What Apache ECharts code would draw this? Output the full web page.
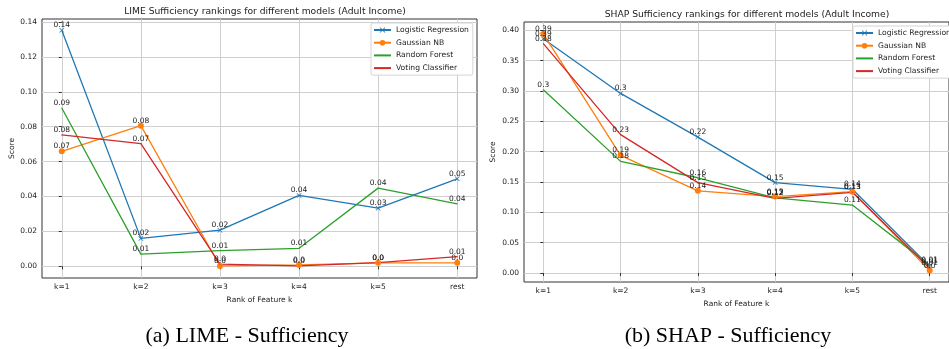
<!DOCTYPE html>
<html><head><meta charset="utf-8">
<script src="https://cdn.jsdelivr.net/npm/echarts@6/dist/echarts.min.js"></script>
<style>html,body{margin:0;padding:0;background:#fff}#c{width:949px;height:349px}</style>
</head><body><div id="c"></div>
<script>
const categories = ['k=1', 'k=2', 'k=3', 'k=4', 'k=5', 'rest'];
const seriesNames = ['Logistic Regression', 'Gaussian NB', 'Random Forest', 'Voting Classifier'];

// LIME sufficiency
const limeLR  = [0.1352, 0.0160, 0.0207, 0.0406, 0.0333, 0.0501];
const limeGNB = [0.0659, 0.0806, 0.0002, 0.0008, 0.0020, 0.0020];
const limeRF  = [0.0907, 0.0070, 0.0090, 0.0103, 0.0448, 0.0358];
const limeVC  = [0.0753, 0.0703, 0.0012, 0.0002, 0.0021, 0.0055];
const limeYTicks = [0, 0.02, 0.04, 0.06, 0.08, 0.10, 0.12, 0.14];

// SHAP sufficiency
const shapLR  = [0.386, 0.296, 0.224, 0.149, 0.138, 0.011];
const shapGNB = [0.394, 0.194, 0.1355, 0.126, 0.134, 0.004];
const shapRF  = [0.302, 0.184, 0.157, 0.124, 0.112, 0.013];
const shapVC  = [0.378, 0.228, 0.149, 0.123, 0.133, 0.008];
const shapYTicks = [0, 0.05, 0.10, 0.15, 0.20, 0.25, 0.30, 0.35, 0.40];

const xTicks = categories.map((c, i) => i);
const colors = ['#1f77b4', '#ff7f0e', '#2ca02c', '#d62728'];
const FONT = 'DejaVu Sans';
const TXT = '#222';
const xMark = 'path://M0,1L1,0L5,4L9,0L10,1L6,5L10,9L9,10L5,6L1,10L0,9L4,5Z';

function fmtLabel(p) {
  const r = Math.round(p.value[1] * 100) / 100;
  let s = String(r);
  if (s.indexOf('.') < 0) s += '.0';
  return s;
}

function mkSeries(name, idx, vals, gi) {
  const sym = idx === 0 ? xMark : 'circle';
  const size = idx === 0 ? 5 : (idx === 1 ? 6 : 1);
  return {
    name: name, type: 'line', xAxisIndex: gi, yAxisIndex: gi,
    data: vals.map((v, i) => [i, v]),
    symbol: sym, symbolSize: size, showSymbol: true,
    lineStyle: { color: colors[idx], width: 1.3 },
    itemStyle: { color: colors[idx] },
    label: {
      show: true, position: 'top', distance: -size / 2 + 1,
      formatter: fmtLabel, color: TXT, fontFamily: FONT, fontSize: 7.5
    },
    emphasis: { disabled: true },
    animation: false
  };
}

function xAxis(gi) {
  return {
    gridIndex: gi, type: 'value', min: -0.25, max: 5.25,
    name: 'Rank of Feature k', nameLocation: 'middle', nameGap: 18,
    nameTextStyle: { color: TXT, fontFamily: FONT, fontSize: 7.5 },
    axisLine: { show: false },
    axisTick: { show: true, customValues: xTicks, length: 3, lineStyle: { color: '#333' } },
    axisLabel: { customValues: xTicks, formatter: v => categories[Math.round(v)], color: TXT, fontFamily: FONT, fontSize: 7.5, margin: 5 },
    splitLine: { show: true, lineStyle: { color: '#cfcfcf', width: 1 } }
  };
}
function yAxis(gi, mn, mx, ticks, gap) {
  return {
    gridIndex: gi, type: 'value', min: mn, max: mx,
    name: 'Score', nameLocation: 'middle', nameGap: gap,
    nameTextStyle: { color: TXT, fontFamily: FONT, fontSize: 7.5 },
    axisLine: { show: false },
    axisTick: { show: true, customValues: ticks, length: 3, lineStyle: { color: '#333' } },
    axisLabel: { customValues: ticks, formatter: v => v.toFixed(2), color: TXT, fontFamily: FONT, fontSize: 7.5, margin: 5 },
    splitLine: { show: true, lineStyle: { color: '#cfcfcf', width: 1 } }
  };
}
function legend(left, top) {
  return {
    data: seriesNames.map((n, i) => i >= 2 ? { name: n, itemStyle: { opacity: 0 } } : { name: n }),
    orient: 'vertical', left: left, top: top,
    itemWidth: 17, itemHeight: 7, itemGap: 4.7,
    padding: [3, 4, 3, 2],
    backgroundColor: '#fff', borderColor: '#d4d4d4', borderWidth: 1, borderRadius: 2,
    textStyle: { color: TXT, fontFamily: FONT, fontSize: 7.6 },
    selectedMode: false
  };
}

const chart = echarts.init(document.getElementById('c'), null, { renderer: 'canvas' });
chart.setOption({
  animation: false,
  backgroundColor: '#fff',
  title: [
    { text: 'LIME Sufficiency rankings for different models (Adult Income)', left: 260, top: 2, textAlign: 'center',
      textStyle: { color: TXT, fontFamily: FONT, fontSize: 9.2, fontWeight: 'normal' } },
    { text: 'SHAP Sufficiency rankings for different models (Adult Income)', left: 742, top: 5, textAlign: 'center',
      textStyle: { color: TXT, fontFamily: FONT, fontSize: 9.2, fontWeight: 'normal' } },
    { text: '(a) LIME - Sufficiency', left: 242, top: 320, textAlign: 'center',
      textStyle: { color: '#000', fontFamily: 'Liberation Serif', fontSize: 22, fontWeight: 'normal' } },
    { text: '(b) SHAP - Sufficiency', left: 723, top: 320, textAlign: 'center',
      textStyle: { color: '#000', fontFamily: 'Liberation Serif', fontSize: 22, fontWeight: 'normal' } }
  ],
  legend: [legend(371, 23), legend(853, 26)],
  grid: [
    { left: 42, right: 472, top: 19, bottom: 71, show: true, borderColor: '#333', borderWidth: 1, backgroundColor: 'transparent' },
    { left: 524, right: -11, top: 22, bottom: 67, show: true, borderColor: '#333', borderWidth: 1, backgroundColor: 'transparent' }
  ],
  xAxis: [xAxis(0), xAxis(1)],
  yAxis: [yAxis(0, -0.0067, 0.1417, limeYTicks, 26), yAxis(1, -0.0148, 0.4137, shapYTicks, 27)],
  series: [
    mkSeries(seriesNames[0], 0, limeLR, 0),
    mkSeries(seriesNames[1], 1, limeGNB, 0),
    mkSeries(seriesNames[2], 2, limeRF, 0),
    mkSeries(seriesNames[3], 3, limeVC, 0),
    mkSeries(seriesNames[0], 0, shapLR, 1),
    mkSeries(seriesNames[1], 1, shapGNB, 1),
    mkSeries(seriesNames[2], 2, shapRF, 1),
    mkSeries(seriesNames[3], 3, shapVC, 1)
  ]
});
</script></body></html>
